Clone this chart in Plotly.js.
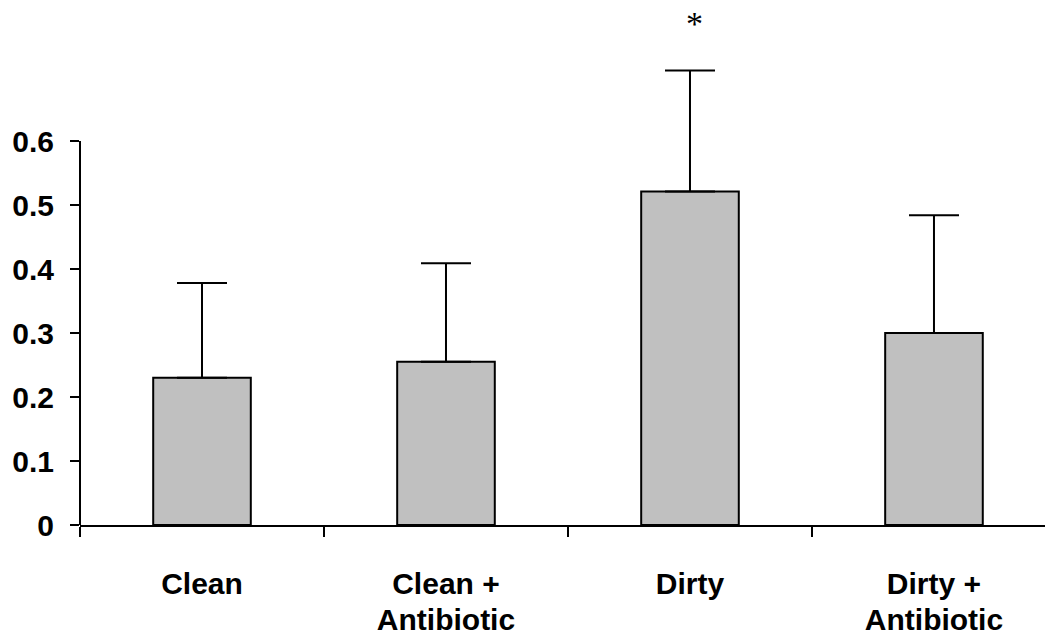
<!DOCTYPE html>
<html>
<head>
<meta charset="utf-8">
<script src="https://cdn.plot.ly/plotly-3.0.1.min.js"></script>
<style>html,body{margin:0;padding:0;background:#fff;}#chart{width:1045px;height:637px;}</style>
</head>
<body>
<div id="chart"></div>
<script>
const categories = ["Clean", "Clean + Antibiotic", "Dirty", "Dirty + Antibiotic"];
const labelLine1 = ["Clean", "Clean +", "Dirty", "Dirty +"];
const labelLine2 = ["", "Antibiotic", "", "Antibiotic"];
const means = [0.23, 0.255, 0.521, 0.30];
const errPlus = [0.148, 0.154, 0.189, 0.184];
const yTicks = [0, 0.1, 0.2, 0.3, 0.4, 0.5, 0.6];
const yTickText = ["0", "0.1", "0.2", "0.3", "0.4", "0.5", "0.6"];
const sigMark = {category: "Dirty", y: 0.79, text: "*"};

const tickFont = {family: "Liberation Sans, Arial, sans-serif", size: 30, color: "#000", weight: "bold"};

const traces = [
  {
    type: "bar",
    x: categories,
    y: means,
    width: 0.4,
    marker: {color: "#c0c0c0", line: {color: "#000", width: 2}},
    error_y: {type: "data", symmetric: false, array: errPlus, arrayminus: means.map(() => 0),
              color: "#000", thickness: 2, width: 25},
    hoverinfo: "none",
    showlegend: false
  },
  {
    type: "scatter",
    mode: "markers",
    x: categories.map((c, i) => i),
    y: categories.map(() => null),
    xaxis: "x2",
    yaxis: "y",
    hoverinfo: "none",
    showlegend: false
  }
];

const layout = {
  width: 1045,
  height: 637,
  margin: {l: 80, r: 0, t: 13, b: 112},
  paper_bgcolor: "#fff",
  plot_bgcolor: "#fff",
  bargap: 0.6,
  xaxis: {
    type: "category",
    categoryorder: "array",
    categoryarray: categories,
    tickvals: categories,
    ticktext: labelLine1,
    range: [-0.5, 3.455],
    tickson: "boundaries",
    ticks: "outside",
    ticklen: 10,
    tickwidth: 2,
    tickcolor: "#000",
    showline: true,
    linewidth: 2,
    linecolor: "#000",
    showgrid: false,
    zeroline: false,
    tickfont: tickFont,
    ticklabelstandoff: 31,
    fixedrange: true
  },
  xaxis2: {
    overlaying: "x",
    anchor: "y",
    side: "bottom",
    range: [-0.5, 3.455],
    tickmode: "array",
    tickvals: [0, 1, 2, 3],
    ticktext: labelLine2,
    ticks: "",
    showline: false,
    showgrid: false,
    zeroline: false,
    tickfont: tickFont,
    ticklabelstandoff: 74,
    fixedrange: true
  },
  yaxis: {
    range: [0, 0.8],
    tickmode: "array",
    tickvals: yTicks,
    ticktext: yTickText,
    ticks: "outside",
    ticklen: 9,
    tickwidth: 2,
    tickcolor: "#000",
    showline: false,
    showgrid: false,
    zeroline: false,
    tickfont: tickFont,
    ticklabelstandoff: 10,
    fixedrange: true
  },
  shapes: [
    {type: "line", xref: "paper", yref: "y", x0: 0, x1: 0, y0: 0, y1: yTicks[yTicks.length - 1],
     line: {color: "#000", width: 2}}
  ],
  annotations: [
    {x: sigMark.category, y: sigMark.y, xref: "x", yref: "y", text: sigMark.text, showarrow: false,
     xshift: 5, yshift: -4, font: {family: "Liberation Serif, Times New Roman, serif", size: 34, color: "#000"}}
  ]
};

Plotly.newPlot("chart", traces, layout, {displayModeBar: false, staticPlot: true});
</script>
</body>
</html>
